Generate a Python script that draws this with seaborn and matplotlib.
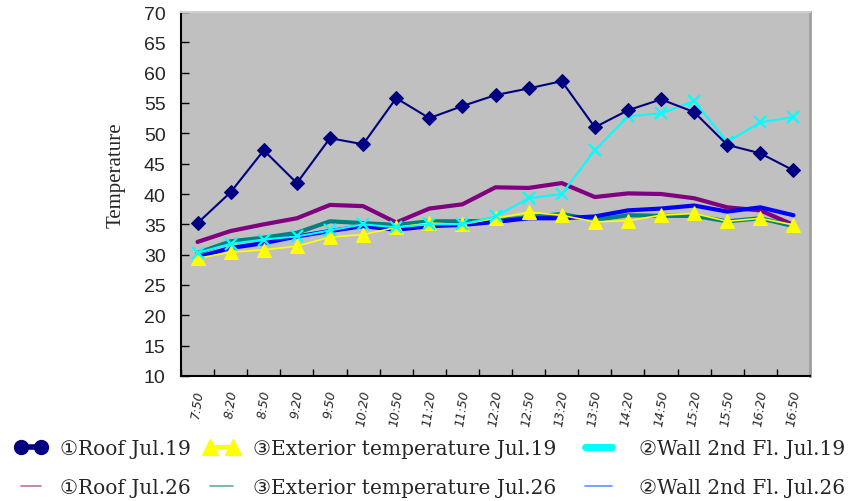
import numpy as np
import pandas as pd
import matplotlib
matplotlib.use("Agg")
import matplotlib.pyplot as plt
from matplotlib.lines import Line2D
from matplotlib.ticker import FixedLocator
import seaborn as sns

times = ["7:50", "8:20", "8:50", "9:20", "9:50", "10:20", "10:50", "11:20", "11:50", "12:20",
         "12:50", "13:20", "13:50", "14:20", "14:50", "15:20", "15:50", "16:20", "16:50"]

roof_jul19 = [35.2, 40.3, 47.2, 41.8, 49.2, 48.2, 55.8, 52.5, 54.5, 56.3,
              57.4, 58.6, 51.0, 53.8, 55.6, 53.5, 48.1, 46.7, 43.9]
ext_jul19 = [29.4, 30.4, 30.8, 31.4, 32.9, 33.3, 34.5, 35.2, 35.0, 36.0,
             37.0, 36.5, 35.4, 35.6, 36.5, 36.8, 35.5, 36.0, 34.9]
wall_jul19 = [30.3, 31.8, 32.5, 33.0, 34.0, 35.0, 34.5, 35.0, 35.0, 36.3,
              39.3, 40.0, 47.2, 52.8, 53.3, 55.3, 48.6, 51.8, 52.7]
roof_jul26 = [32.1, 33.9, 35.0, 36.0, 38.2, 38.0, 35.3, 37.6, 38.3, 41.1,
              41.0, 41.8, 39.5, 40.1, 40.0, 39.3, 37.8, 37.3, 34.9]
ext_jul26 = [30.3, 32.2, 32.8, 33.6, 35.5, 35.2, 34.9, 35.5, 35.5, 35.6,
             36.2, 36.7, 35.7, 36.5, 36.4, 36.4, 35.5, 36.0, 34.7]
wall_jul26 = [29.6, 31.1, 31.9, 33.0, 33.9, 34.7, 34.1, 34.7, 34.9, 35.4,
              36.0, 36.0, 36.3, 37.3, 37.6, 38.1, 37.1, 37.8, 36.5]

labels = ["①Roof Jul.19", "③Exterior temperature Jul.19", "②Wall 2nd Fl. Jul.19",
          "①Roof Jul.26", "③Exterior temperature Jul.26", "②Wall 2nd Fl. Jul.26"]
y_ticks = list(range(10, 75, 5))

sns.set_theme(style="white")
serif = ["DejaVu Serif", "DejaVu Sans", "Noto Sans CJK JP"]

W, H = 868, 502
fig = plt.figure(figsize=(W / 100, H / 100), dpi=100)
ax = fig.add_axes([181 / W, 1 - 377 / H, 629 / W, 364 / H])
ax.set_facecolor("#C0C0C0")

idx = np.arange(len(times))

def draw(vals, **kw):
    sns.lineplot(x=idx, y=vals, ax=ax, sort=False, legend=False, **kw)

# Jul.26 thick lines underneath
draw(roof_jul26, color="#800080", linewidth=3)
draw(ext_jul26, color="#008080", linewidth=3)
draw(wall_jul26, color="#0000FF", linewidth=3)
# Jul.19 lines with markers
draw(ext_jul19, color="#FFFF00", linewidth=1.2, marker="^", markersize=10,
     markeredgecolor="#FFFF00")
draw(wall_jul19, color="#00FFFF", linewidth=1.5, marker="x", markersize=9,
     markeredgewidth=1.6, markeredgecolor="#00FFFF")
draw(roof_jul19, color="#000080", linewidth=1.5, marker="D", markersize=7,
     markeredgecolor="#000080")

ax.set_xlim(-0.5, len(times) - 0.5)
ax.set_ylim(10, 70)
ax.set_yticks(y_ticks)
ax.set_yticklabels([str(v) for v in y_ticks], fontsize=14, family="Liberation Sans")
ax.set_xticks(idx)
ax.set_xticklabels(times, rotation=82, fontsize=9, style="italic", family="DejaVu Sans",
                   ha="center")
ax.xaxis.set_minor_locator(FixedLocator(np.arange(-0.5, len(times), 1.0)))
ax.tick_params(axis="x", which="major", length=0, pad=9)
ax.tick_params(axis="x", which="minor", direction="in", length=5, width=1, color="black", bottom=True)
ax.tick_params(axis="y", which="major", direction="in", length=6, width=1, color="black", left=True, pad=11)

for s in ["left", "bottom"]:
    ax.spines[s].set_color("black")
    ax.spines[s].set_linewidth(1.5)
ax.spines["right"].set_color("#A0A0A0")
ax.spines["right"].set_linewidth(2)
ax.spines["top"].set_color("#D0D0D0")
ax.spines["top"].set_linewidth(1.5)

ax.set_xlabel("")
ax.set_ylabel("Temperature", fontsize=15, family=["Liberation Serif", "DejaVu Serif"])
ax.yaxis.set_label_coords((126 - 181) / 629, 0.555)

# legend: three columns placed like the original
fs = 14.5
col_specs = [
    # x position (px), handlelength, handletextpad, handles, labels
    (15, 1.59, 0.65,
     [Line2D([0], [0], color="#000080", lw=4, marker="o", markersize=10),
      Line2D([0], [0], color="#C070A0", lw=1.2)],
     [labels[0], labels[3]]),
    (204, 1.74, 0.70,
     [Line2D([0], [0], color="#FFFF00", lw=3, marker="^", markersize=11),
      Line2D([0], [0], color="#60B090", lw=1.2)],
     [labels[1], labels[4]]),
    (579, 1.94, 1.04,
     [Line2D([0], [0], color="#00FFFF", lw=5),
      Line2D([0], [0], color="#6090FF", lw=1.2)],
     [labels[2], labels[5]]),
]
for x, hlen, hpad, hs, ls in col_specs:
    leg = fig.legend(hs, ls, loc="center left", bbox_to_anchor=(x / W, 1 - 469 / H),
                     frameon=False, prop={"family": serif, "size": fs},
                     handlelength=hlen, handletextpad=hpad, labelspacing=0.95,
                     borderpad=0, borderaxespad=0, numpoints=2, markerfirst=True)

fig.savefig("out.png", dpi=100)
